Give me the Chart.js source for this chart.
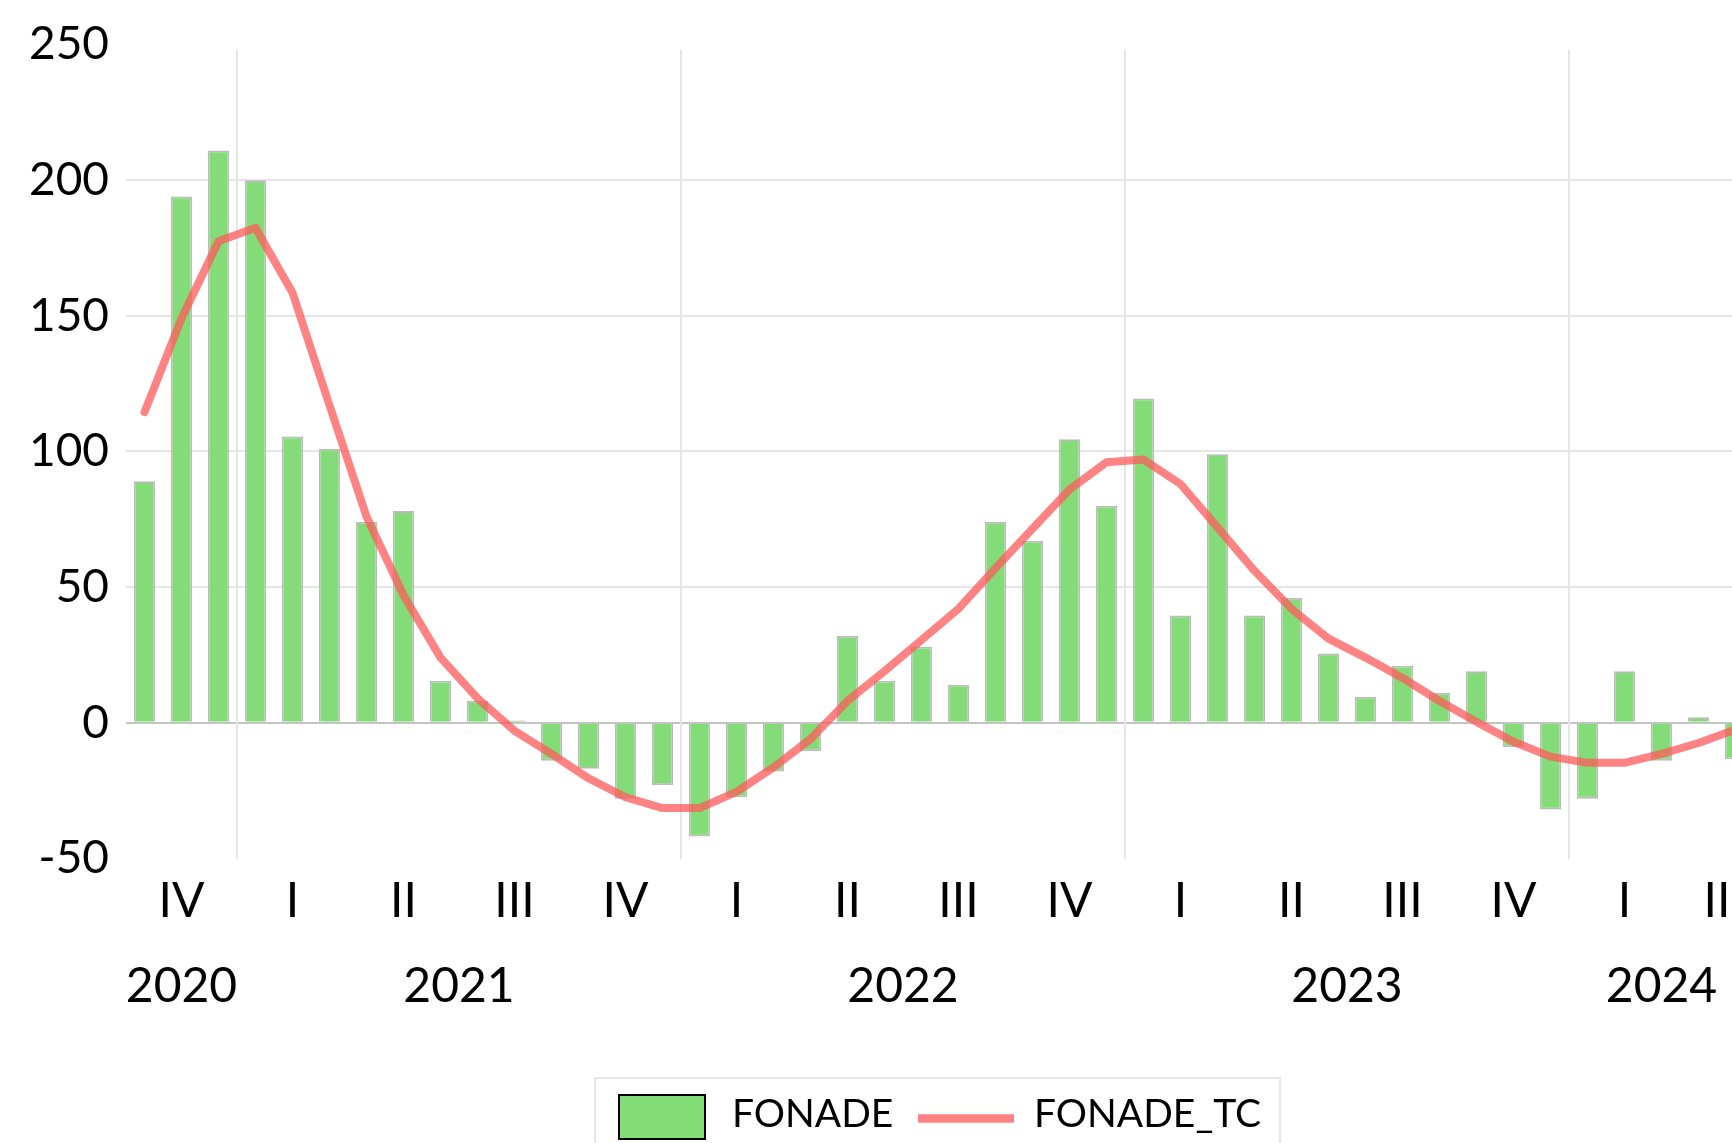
<!DOCTYPE html>
<html>
<head>
<meta charset="utf-8">
<script src="https://cdn.jsdelivr.net/npm/chart.js@4.4.1/dist/chart.umd.min.js"></script>
<style>
  html, body { margin:0; padding:0; background:#fff; overflow:hidden; width:1732px; height:1143px; }
  #wrap { position:relative; width:1770px; height:1143px; }
  canvas { display:block; }
</style>
</head>
<body>
<div id="wrap"><canvas id="c" width="1770" height="1143"></canvas></div>
<script>
// ---- data ----
const months = [
  '2020-10','2020-11','2020-12',
  '2021-01','2021-02','2021-03','2021-04','2021-05','2021-06','2021-07','2021-08','2021-09','2021-10','2021-11','2021-12',
  '2022-01','2022-02','2022-03','2022-04','2022-05','2022-06','2022-07','2022-08','2022-09','2022-10','2022-11','2022-12',
  '2023-01','2023-02','2023-03','2023-04','2023-05','2023-06','2023-07','2023-08','2023-09','2023-10','2023-11','2023-12',
  '2024-01','2024-02','2024-03','2024-04','2024-05'
];
const fonade = [
  89, 194, 211,
  200, 105.5, 101, 74, 78, 15.5, 8, 0.8, -14, -17, -28, -23,
  -42, -27.5, -18, -10.5, 32, 15.5, 28, 14, 74, 67, 104.5, 80,
  119.5, 39.5, 99, 39.5, 46, 25.5, 9.5, 21, 11, 19, -9, -32,
  -28, 19, -14, 2, -13.5
];
const fonadeTC = [
  114.5, 149, 177.5,
  182.5, 158.5, 117, 76, 47, 24, 9, -3, -11.5, -20.5, -27.5, -31.5,
  -31.5, -25.5, -16.5, -6, 8, 19, 30.5, 42, 57, 71.5, 86, 96,
  97, 88, 72, 56, 42, 31, 24, 16.5, 8, 0.3, -7, -12.5,
  -14.8, -14.8, -11.5, -7.5, -2.5
];
const seriesNames = ['FONADE', 'FONADE_TC'];
const quarterNames = ['I', 'II', 'III', 'IV'];
const yTicks = { min: -50, max: 250, step: 50 };

// ---- styles ----
const FONT = 'Lato, "Open Sans", "DejaVu Sans", sans-serif';
const BAR_FILL = '#84dc78';
const BAR_BORDER = '#bbbbbb';
const LINE_COLOR = 'rgba(255, 90, 90, 0.75)';

function groupsBy(keyFn) {
  const groups = [];
  months.forEach((m, i) => {
    const k = keyFn(m);
    const last = groups[groups.length - 1];
    if (last && last.key === k) last.end = i;
    else groups.push({ key: k, start: i, end: i });
  });
  return groups;
}

const axisDecor = {
  id: 'axisDecor',
  beforeDatasetsDraw(chart) {
    const { ctx, chartArea: a, scales: { x } } = chart;
    ctx.save();
    ctx.strokeStyle = '#e6e6e6';
    ctx.lineWidth = 2;
    for (let i = 1; i < months.length; i++) {
      if (months[i].slice(0, 4) !== months[i - 1].slice(0, 4)) {
        const px = Math.round((x.getPixelForValue(i - 1) + x.getPixelForValue(i)) / 2);
        ctx.beginPath();
        ctx.moveTo(px, a.top + 5);
        ctx.lineTo(px, a.bottom + 1);
        ctx.stroke();
      }
    }
    ctx.restore();
  },
  afterDraw(chart) {
    const { ctx, chartArea: a, scales: { x } } = chart;
    ctx.save();
    ctx.fillStyle = '#000';
    ctx.textAlign = 'center';
    ctx.textBaseline = 'alphabetic';
    const size = 48;
    ctx.font = size + 'px ' + FONT;
    const capHalf = 0.358 * size;
    // quarter labels
    groupsBy(m => m.slice(0, 4) + 'Q' + Math.floor((parseInt(m.slice(5), 10) - 1) / 3)).forEach(g => {
      const q = parseInt(g.key.split('Q')[1], 10);
      const cx = (x.getPixelForValue(g.start) + x.getPixelForValue(g.end)) / 2;
      ctx.fillText(quarterNames[q], cx, a.bottom + 42 + capHalf);
    });
    // year labels
    groupsBy(m => m.slice(0, 4)).forEach(g => {
      const cx = (x.getPixelForValue(g.start) + x.getPixelForValue(g.end)) / 2;
      ctx.fillText(g.key, cx, a.bottom + 127 + capHalf);
    });

    // legend
    const ds = chart.data.datasets;
    const cx = (a.left + a.right) / 2;
    const boxL = Math.round(cx - 345);
    const top = 1078;
    ctx.strokeStyle = '#e6e6e6';
    ctx.lineWidth = 2;
    ctx.strokeRect(boxL, top, 685, 140);
    const lf = 39;
    ctx.font = lf + 'px ' + FONT;
    ctx.textAlign = 'left';
    const textY = 1113 + 0.358 * lf;
    // bar swatch
    ctx.fillStyle = ds[0].backgroundColor;
    ctx.fillRect(boxL + 24, 1095, 86, 44);
    ctx.strokeStyle = '#000';
    ctx.lineWidth = 2;
    ctx.strokeRect(boxL + 24, 1095, 86, 44);
    ctx.fillStyle = '#000';
    ctx.fillText(ds[0].label, boxL + 137, textY);
    // line swatch
    ctx.strokeStyle = ds[1].borderColor;
    ctx.lineWidth = 8.5;
    ctx.beginPath();
    ctx.moveTo(boxL + 323, 1118.5);
    ctx.lineTo(boxL + 419, 1118.5);
    ctx.stroke();
    ctx.fillStyle = '#000';
    ctx.fillText(ds[1].label, boxL + 439, textY);
    ctx.restore();
  }
};

function build() {
  Chart.defaults.font.family = FONT;
  new Chart(document.getElementById('c'), {
    type: 'bar',
    data: {
      labels: months,
      datasets: [
        {
          type: 'bar',
          label: seriesNames[0],
          data: fonade,
          backgroundColor: BAR_FILL,
          borderColor: BAR_BORDER,
          borderWidth: 1.8,
          barPercentage: 0.58,
          categoryPercentage: 1.0,
          order: 2
        },
        {
          type: 'line',
          label: seriesNames[1],
          data: fonadeTC,
          borderColor: LINE_COLOR,
          backgroundColor: LINE_COLOR,
          borderWidth: 8,
          pointRadius: 0,
          tension: 0,
          fill: false,
          borderCapStyle: 'round',
          borderJoinStyle: 'round',
          order: 1
        }
      ]
    },
    options: {
      responsive: false,
      maintainAspectRatio: false,
      animation: false,
      layout: { padding: { top: 37, right: 16, left: 0, bottom: 0 } },
      plugins: { legend: { display: false }, tooltip: { enabled: false } },
      scales: {
        x: {
          ticks: { display: false },
          grid: { display: false },
          border: { display: false },
          afterFit(s) { s.height = 1143 - 858.3; }
        },
        y: {
          min: yTicks.min,
          max: yTicks.max,
          ticks: {
            stepSize: yTicks.step,
            color: '#000',
            font: { size: 46, family: FONT },
            padding: 17
          },
          grid: {
            drawTicks: false,
            lineWidth: 2,
            color: c => {
              const v = c.tick ? c.tick.value : null;
              if (v === 0) return '#c4c4c4';
              if (v === yTicks.max || v === yTicks.min) return 'rgba(0,0,0,0)';
              return '#e6e6e6';
            }
          },
          border: { display: false },
          afterFit(s) { s.width = 126; }
        }
      }
    },
    plugins: [axisDecor]
  });
}

if (document.fonts && document.fonts.load) {
  Promise.all([document.fonts.load('46px Lato'), document.fonts.load('48px Lato')]).then(build, build);
} else {
  build();
}
</script>
</body>
</html>
